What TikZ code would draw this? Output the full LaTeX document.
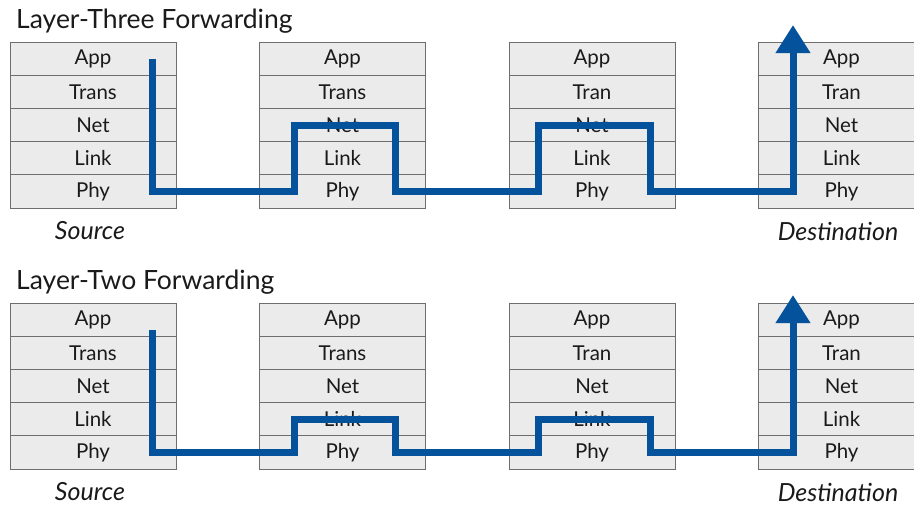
\documentclass[tikz,border=0pt]{standalone}
\usepackage{fontspec}
\setmainfont{Lato}
\usetikzlibrary{arrows.meta,calc}
\definecolor{netblue}{HTML}{03529B}
\definecolor{layerfill}{HTML}{EBEBEB}
\definecolor{layerline}{HTML}{6E6E6E}
\definecolor{inktext}{HTML}{1A1A1A}
\begin{document}
\begin{tikzpicture}[x=1pt,y=-1pt,
  layer/.style={draw=layerline, fill=layerfill, line width=0.9pt,
    minimum width=166pt, minimum height=33.2pt, inner sep=0pt, outer sep=0pt,
    anchor=north west, text=inktext, font=\fontsize{20.5}{22}\selectfont},
  paneltitle/.style={anchor=base west, inner sep=0pt, text=inktext,
    font=\fontsize{26.5}{28}\selectfont},
  hostlabel/.style={inner sep=0pt, text=inktext,
    font=\fontsize{25}{27}\selectfont\itshape},
  flow/.style={draw=netblue, line width=7pt, line join=miter, line cap=butt,
    -{Triangle[width=33pt,length=28pt]}}]
\clip (0,0) rectangle (914,507);
\foreach \pre/\ty in {T/42,B/303}{
  \foreach \i/\sx/\tr in {1/10/Trans,2/259.5/Trans,3/509/Tran,4/758.5/Tran}{
    \foreach \j/\lab in {0/App,1/\tr,2/Net,3/Link,4/Phy}{
      \node[layer] (\pre\i-\j) at ({\sx},{\ty+\j*33.2}) {\lab};
    }
  }
}
% titles and host labels
\node[paneltitle] (title3) at (16,28) {Layer-Three Forwarding};
\node[paneltitle] (title2) at (16,289) {Layer-Two Forwarding};
\node[hostlabel] (srcT) at (90,231) {Source};
\node[hostlabel] (dstT) at (838,231) {Destination};
\node[hostlabel] (srcB) at (90,492) {Source};
\node[hostlabel] (dstB) at (838,492) {Destination};
% layer-three path
\draw[flow] ([xshift=142pt]T1-0.west) |- ([xshift=34.5pt]T2-4.west)
  |- ([xshift=135.5pt]T2-2.west) |- ([xshift=29pt]T3-4.west)
  |- ([xshift=141pt]T3-2.west) |- ([xshift=34.5pt]T4-4.west)
  -- ([xshift=34.5pt,yshift=17pt]T4-0.north west);
% layer-two path
\draw[flow] ([xshift=142pt,yshift=-10pt]B1-0.west) |- ([xshift=34.5pt]B2-4.west)
  |- ([xshift=135.5pt]B2-3.west) |- ([xshift=29pt]B3-4.west)
  |- ([xshift=141pt]B3-3.west) |- ([xshift=34.5pt]B4-4.west)
  -- ([xshift=34.5pt,yshift=8pt]B4-0.north west);
\end{tikzpicture}
\end{document}
